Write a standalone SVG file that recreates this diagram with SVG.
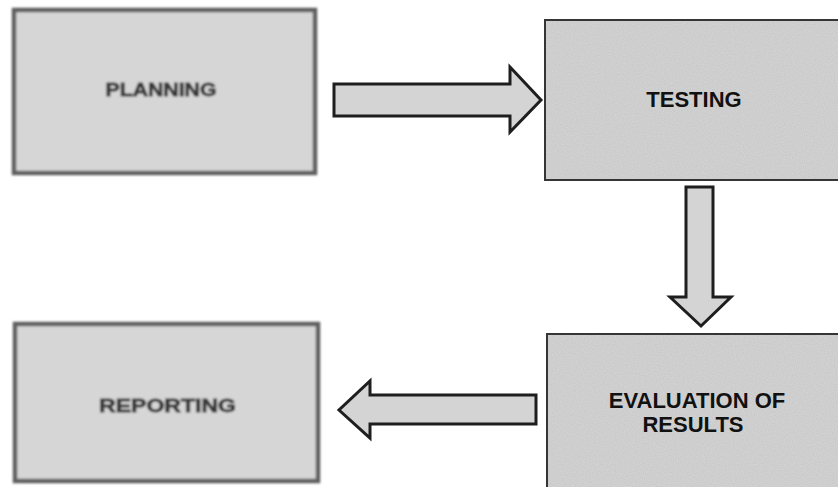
<svg xmlns="http://www.w3.org/2000/svg" width="838" height="487" viewBox="0 0 838 487">
  <style>
    .soft-box { fill: #d6d6d6; stroke: #606060; stroke-width: 4.5; }
    .soft-label { font-family: "Liberation Sans", Arial, sans-serif; font-weight: bold; font-size: 19px; fill: #383838; stroke: #383838; stroke-width: 0.8; text-anchor: middle; }
    .box { fill: #d8d8d8; stroke: #383838; stroke-width: 3; }
    .label { font-family: "Liberation Sans", Arial, sans-serif; font-weight: bold; font-size: 22px; fill: #111; text-anchor: middle; }
    .arrow { fill: #d4d4d4; stroke: #1e1e1e; stroke-width: 3; stroke-linejoin: miter; }
  </style>
  <defs>
    <filter id="soften" x="-5%" y="-5%" width="110%" height="110%">
      <feGaussianBlur stdDeviation="1.3"/>
    </filter>
    <filter id="grain" x="0" y="0" width="100%" height="100%">
      <feTurbulence type="fractalNoise" baseFrequency="0.9" numOctaves="1" seed="3" result="noise"/>
      <feColorMatrix in="noise" type="matrix" values="0 0 0 0 0  0 0 0 0 0  0 0 0 0 0  0 0 0 0.2 0" result="speckle"/>
      <feComposite in="speckle" in2="SourceGraphic" operator="atop" result="grainy"/>
      <feMerge>
        <feMergeNode in="SourceGraphic"/>
        <feMergeNode in="grainy"/>
      </feMerge>
    </filter>
  </defs>

  <rect width="838" height="487" fill="#ffffff"/>

  <g id="planning" filter="url(#soften)">
    <rect class="soft-box" x="14" y="10" width="301" height="163"/>
    <text class="soft-label" x="161" y="96" textLength="111" lengthAdjust="spacingAndGlyphs">PLANNING</text>
  </g>

  <g id="testing">
    <rect class="box" x="544.5" y="19.5" width="300" height="161" filter="url(#grain)"/>
    <text class="label" x="694" y="107">TESTING</text>
  </g>

  <g id="evaluation">
    <rect class="box" x="546.5" y="333.5" width="300" height="200" filter="url(#grain)"/>
    <text class="label" x="697" y="408">EVALUATION OF</text>
    <text class="label" x="693" y="432">RESULTS</text>
  </g>

  <g id="reporting" filter="url(#soften)">
    <rect class="soft-box" x="15" y="324" width="303" height="157"/>
    <text class="soft-label" x="167.5" y="412" textLength="137" lengthAdjust="spacingAndGlyphs">REPORTING</text>
  </g>

  <g id="connectors">
    <!-- planning to testing -->
    <polygon class="arrow" points="334,84 510,84 510,67 541,100 510,132 510,116 334,116"/>
    <!-- testing to evaluation -->
    <polygon class="arrow" points="686,187 713,187 713,297 731,297 701,326 670,297 686,297"/>
    <!-- evaluation to reporting -->
    <polygon class="arrow" points="536,395 370,395 370,381 339,410 370,438 370,424 536,424"/>
  </g>
</svg>
